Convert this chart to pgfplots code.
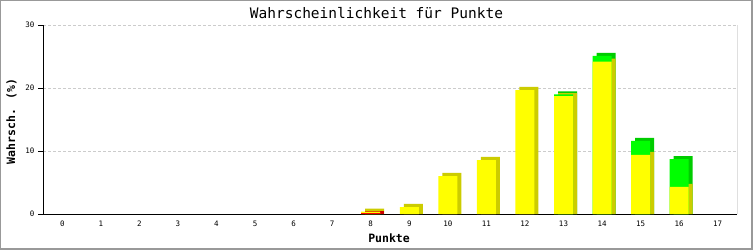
\documentclass[border=0pt]{standalone}
\usepackage{pgfplots}
\pgfplotsset{compat=1.18}
\usepackage{fontspec}
\setmainfont{DejaVu Sans Mono}
\definecolor{fy}{HTML}{FFFF00}
\definecolor{dy}{HTML}{CCCC00}
\definecolor{fg}{HTML}{00FF00}
\definecolor{dg}{HTML}{00CC00}
\definecolor{fr}{HTML}{FF0000}
\definecolor{dr}{HTML}{CC0000}
\definecolor{bordergray}{HTML}{999999}
\begin{document}
\begin{tikzpicture}[x=1pt,y=1pt]
\useasboundingbox (0,0) rectangle (753,250);
\fill[bordergray] (0,0) rectangle (753,250);
\fill[white] (1,2) rectangle (751,249);
\begin{axis}[
  at={(43pt,36pt)}, anchor=south west,
  scale only axis, width=694pt, height=189pt,
  ybar, bar width=19pt,
  xmin=-0.5, xmax=17.5, ymin=0, ymax=30,
  enlargelimits=false,
  axis x line*=bottom, axis y line*=left,
  axis line style={black, line width=0.8pt},
  xtick={0,...,17}, ytick={0,10,20,30},
  xtick style={draw=none},
  ytick style={black, line width=0.8pt},
  tick align=outside, major tick length=5pt,
  ymajorgrids, grid style={gray!40, line width=0.8pt, dash pattern=on 2.5pt off 2.5pt},
  /pgf/number format/assume math mode=true,
  ticklabel style={font=\fontsize{7.5}{8}\selectfont},
  xticklabel style={yshift=1.5pt},
  every axis title shift=0pt,
  title={Wahrscheinlichkeit für Punkte},
  title style={at={(axis description cs:0.4805,1.0635)}, anchor=center, font=\fontsize{14.5}{16}\selectfont, inner sep=0pt},
  xlabel={Punkte},
  xlabel style={at={(axis description cs:0.4986,-0.1296)}, anchor=center, font=\bfseries\fontsize{11.5}{13}\selectfont, inner sep=0pt},
  ylabel={Wahrsch. (\%)},
  ylabel style={at={(axis description cs:-0.0454,0.489)}, anchor=center, font=\bfseries\fontsize{11.5}{13}\selectfont, inner sep=0pt},
]
% side/top shading (3D depth)
\addplot[bar shift=4pt, fill=dg, draw=none] coordinates {(13,19.48) (14,25.58) (15,12.08) (16,9.18)};
\addplot[bar shift=4pt, fill=dy, draw=none] coordinates {(8,0.85) (9,1.59) (10,6.51) (11,9.05) (12,20.16) (13,19.18) (14,24.68) (15,9.88) (16,4.78)};
\addplot[bar shift=4pt, fill=dr, draw=none] coordinates {(8,0.55)};
% front faces
\addplot[bar shift=0pt, fill=fg, draw=none] coordinates {(13,19.0) (14,25.1) (15,11.6) (16,8.7)};
\addplot[bar shift=0pt, fill=fy, draw=none] coordinates {(8,0.37) (9,1.11) (10,6.03) (11,8.57) (12,19.68) (13,18.7) (14,24.2) (15,9.4) (16,4.3)};
\addplot[bar shift=0pt, fill=fr, draw=none] coordinates {(8,0.12)};
\draw[black, line width=0.8pt] (rel axis cs:1,0) -- (rel axis cs:1,1);
\end{axis}
\end{tikzpicture}
\end{document}
